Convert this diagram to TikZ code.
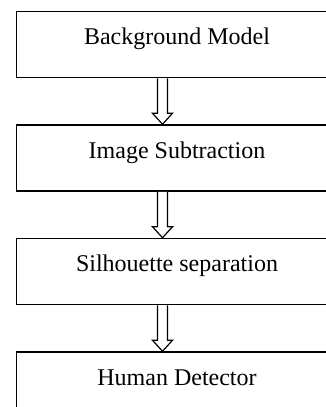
\documentclass[tikz,border=0pt]{standalone}
\usepackage{fontspec}
\setmainfont{Liberation Serif}
\usetikzlibrary{positioning,calc}

\tikzset{
  stage/.style={draw, line width=1.5pt, minimum width=321pt, minimum height=66pt,
    text height=10pt, text depth=10pt, font=\fontsize{24}{28}\selectfont},
  hollow/.style={draw, line width=1.2pt, fill=white, line join=miter}
}

\begin{document}
\begin{tikzpicture}[x=1pt,y=1pt]
\clip (0,0) rectangle (326,-407);
\node[stage] (bg) at (177,-44.5) {Background Model};
\node[stage, below=46pt of bg] (sub) {Image Subtraction};
\node[stage, below=46pt of sub] (sil) {Silhouette separation};
\node[stage, below=46pt of sil] (hum) {Human Detector};
% hollow arrows between the stages
\foreach \a/\b in {bg/sub, sub/sil, sil/hum} {
  \draw[hollow] ($(\a.south)+(-19.5,0)$) -- ($(\b.north)+(-19.5,11)$) -- ++(-5,0)
    -- ($(\b.north)+(-14.5,0)$) -- ++(10,11) -- ++(-5,0) -- ($(\a.south)+(-9.5,0)$);
}
\end{tikzpicture}
\end{document}
